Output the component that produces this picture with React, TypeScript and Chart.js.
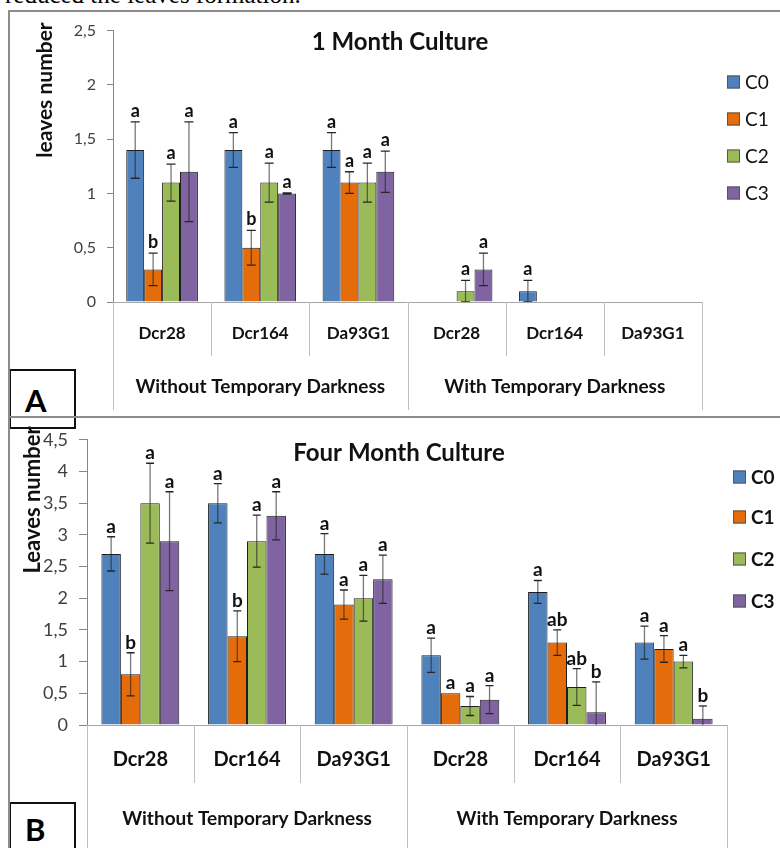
import React, { useEffect, useRef } from "react";
import { Chart, registerables } from "chart.js";
Chart.register(...registerables);

// ---------- data ----------
const seriesNames = ["C0", "C1", "C2", "C3"];
const seriesColors = ["#4F81BD", "#E46C0A", "#9BBB59", "#8064A2"];
const cultivars = ["Dcr28", "Dcr164", "Da93G1", "Dcr28", "Dcr164", "Da93G1"];
const groupNames = ["Without Temporary Darkness", "With Temporary Darkness"];
const yTicksOne = [0, 0.5, 1, 1.5, 2, 2.5];
const yTicksFour = [0, 0.5, 1, 1.5, 2, 2.5, 3, 3.5, 4, 4.5];

// 1 Month Culture
const oneC0 = [1.4, 1.4, 1.4, 0, 0.1, 0];
const oneC1 = [0.3, 0.5, 1.1, 0, 0, 0];
const oneC2 = [1.1, 1.1, 1.1, 0.1, 0, 0];
const oneC3 = [1.2, 1.0, 1.2, 0.3, 0, 0];
const oneErrC0 = [0.26, 0.16, 0.16, 0, 0.1, 0];
const oneErrC1 = [0.15, 0.16, 0.1, 0, 0, 0];
const oneErrC2 = [0.17, 0.18, 0.18, 0.1, 0, 0];
const oneErrC3 = [0.46, 0.005, 0.19, 0.15, 0, 0];
const oneLetC0 = ["a", "a", "a", "", "a", ""];
const oneLetC1 = ["b", "b", "a", "", "", ""];
const oneLetC2 = ["a", "a", "a", "a", "", ""];
const oneLetC3 = ["a", "a", "a", "a", "", ""];

// Four Month Culture
const fourC0 = [2.7, 3.5, 2.7, 1.1, 2.1, 1.3];
const fourC1 = [0.8, 1.4, 1.9, 0.5, 1.3, 1.2];
const fourC2 = [3.5, 2.9, 2.0, 0.3, 0.6, 1.0];
const fourC3 = [2.9, 3.3, 2.3, 0.4, 0.2, 0.1];
const fourErrC0 = [0.27, 0.31, 0.32, 0.27, 0.18, 0.26];
const fourErrC1 = [0.34, 0.4, 0.23, 0, 0.2, 0.21];
const fourErrC2 = [0.63, 0.41, 0.36, 0.15, 0.29, 0.1];
const fourErrC3 = [0.78, 0.38, 0.38, 0.22, 0.48, 0.2];
const fourLetC0 = ["a", "a", "a", "a", "a", "a"];
const fourLetC1 = ["b", "b", "a", "a", "ab", "a"];
const fourLetC2 = ["a", "a", "a", "a", "ab", "a"];
const fourLetC3 = ["a", "a", "a", "a", "b", "b"];

const FONT = 'Lato, "Open Sans", sans-serif';

type Panel = {
  title: string;
  yTitle: string;
  values: number[][];
  errors: number[][];
  letters: string[][];
  yMax: number;
  yTicks: number[];
  w: number;
  h: number;
  style: any;
};

const panelOne: Panel = {
  title: "1 Month Culture",
  yTitle: "leaves number",
  values: [oneC0, oneC1, oneC2, oneC3],
  errors: [oneErrC0, oneErrC1, oneErrC2, oneErrC3],
  letters: [oneLetC0, oneLetC1, oneLetC2, oneLetC3],
  yMax: 2.5,
  yTicks: yTicksOne,
  w: 772,
  h: 408,
  style: {
    yWidth: 105, padTop: 20, padBottom: 116, padRight: 78,
    tickFont: 16, tickLen: 6, tickPad: 11,
    titleX: 392, titleY: 32, titleFont: 24,
    yTitleX: 37, yTitleY: 80, yTitleFont: 21,
    catY: 32, catFont: 17, groupY: 85, groupFont: 19,
    innerDiv: 54, outerDiv: 108,
    legSqX: 719, legTxtX: 737, legY: [72, 109, 146, 183], legFont: "19px", legBold: false,
    letterFont: 18, letterGap: 5, capHalf: 4.5,
  },
};

const panelFour: Panel = {
  title: "Four Month Culture",
  yTitle: "Leaves number",
  values: [fourC0, fourC1, fourC2, fourC3],
  errors: [fourErrC0, fourErrC1, fourErrC2, fourErrC3],
  letters: [fourLetC0, fourLetC1, fourLetC2, fourLetC3],
  yMax: 4.5,
  yTicks: yTicksFour,
  w: 772,
  h: 430,
  style: {
    yWidth: 79, padTop: 18, padBottom: 123, padRight: 53,
    tickFont: 18, tickLen: 8, tickPad: 11,
    titleX: 391, titleY: 35, titleFont: 24,
    yTitleX: 25, yTitleY: 82, yTitleFont: 22,
    catY: 35, catFont: 20, groupY: 94, groupFont: 19,
    innerDiv: 58, outerDiv: 123,
    legSqX: 725, legTxtX: 743, legY: [59, 99, 141, 183], legFont: "bold 19px", legBold: true,
    letterFont: 19, letterGap: 4, capHalf: 4,
  },
};

function makePlugin(p: Panel) {
  const s = p.style;
  return {
    id: "panelDecor",
    afterDatasetsDraw(chart: any) {
      const ctx = chart.ctx;
      const y = chart.scales.y;
      const area = chart.chartArea;
      ctx.save();
      p.values.forEach((vals, di) => {
        const meta = chart.getDatasetMeta(di);
        vals.forEach((v, i) => {
          const bar = meta.data[i];
          const x = bar.x;
          const e = p.errors[di][i];
          const topV = v + e;
          if (e > 0) {
            const yt = y.getPixelForValue(topV);
            const yb = Math.min(y.getPixelForValue(v - e), area.bottom);
            ctx.strokeStyle = "rgba(30,30,30,0.6)";
            ctx.lineWidth = 1.3;
            ctx.beginPath();
            ctx.moveTo(x, yt);
            ctx.lineTo(x, yb);
            ctx.stroke();
            ctx.strokeStyle = "#262626";
            ctx.beginPath();
            ctx.moveTo(x - s.capHalf, yt);
            ctx.lineTo(x + s.capHalf, yt);
            if (v - e >= 0) {
              ctx.moveTo(x - s.capHalf, yb);
              ctx.lineTo(x + s.capHalf, yb);
            }
            ctx.stroke();
          }
          const letter = p.letters[di][i];
          if (letter) {
            ctx.fillStyle = "#111";
            ctx.font = `bold ${s.letterFont}px ${FONT}`;
            ctx.textAlign = "center";
            ctx.textBaseline = "alphabetic";
            ctx.fillText(letter, x, y.getPixelForValue(topV) - s.letterGap);
          }
        });
      });
      ctx.restore();
    },
    afterDraw(chart: any) {
      const ctx = chart.ctx;
      const area = chart.chartArea;
      const xs = chart.scales.x;
      const n = cultivars.length;
      const cw = (area.right - area.left) / n;
      ctx.save();
      // baseline
      ctx.strokeStyle = "#a6a6a6";
      ctx.lineWidth = 1;
      ctx.beginPath();
      ctx.moveTo(area.left, area.bottom + 0.5);
      ctx.lineTo(area.right, area.bottom + 0.5);
      ctx.stroke();
      // dividers
      ctx.strokeStyle = "#bfbfbf";
      for (let i = 0; i <= n; i++) {
        const x = Math.round(area.left + i * cw) + 0.5;
        const outer = i === 0 || i === n || i === n / 2;
        ctx.beginPath();
        ctx.moveTo(x, area.bottom);
        ctx.lineTo(x, area.bottom + (outer ? s.outerDiv : s.innerDiv));
        ctx.stroke();
      }
      // category labels
      ctx.fillStyle = "#111";
      ctx.textAlign = "center";
      ctx.textBaseline = "middle";
      ctx.font = `bold ${s.catFont}px ${FONT}`;
      cultivars.forEach((c, i) => {
        ctx.fillText(c, xs.getPixelForValue(i), area.bottom + s.catY);
      });
      ctx.font = `bold ${s.groupFont}px ${FONT}`;
      groupNames.forEach((g, gi) => {
        const cx = area.left + (gi * 3 + 1.5) * cw;
        ctx.fillText(g, cx, area.bottom + s.groupY);
      });
      // title
      ctx.font = `bold ${s.titleFont}px ${FONT}`;
      ctx.fillText(p.title, s.titleX, s.titleY);
      // y title
      ctx.save();
      ctx.translate(s.yTitleX, s.yTitleY);
      ctx.rotate(-Math.PI / 2);
      ctx.font = `bold ${s.yTitleFont}px ${FONT}`;
      ctx.fillText(p.yTitle, 0, 0);
      ctx.restore();
      // legend
      ctx.textAlign = "left";
      ctx.font = `${s.legFont} ${FONT}`;
      seriesNames.forEach((name, i) => {
        const cy = s.legY[i];
        ctx.fillStyle = seriesColors[i];
        ctx.fillRect(s.legSqX, cy - 6.5, 13, 13);
        ctx.strokeStyle = "#555";
        ctx.lineWidth = 1;
        ctx.strokeRect(s.legSqX + 0.5, cy - 6, 12, 12);
        ctx.fillStyle = "#111";
        ctx.fillText(name, s.legTxtX, cy + 1);
      });
      ctx.restore();
    },
  };
}

function PanelChart({ p, top, label }: { p: Panel; top: number; label: string }) {
  const ref = useRef<HTMLCanvasElement | null>(null);
  useEffect(() => {
    if (!ref.current) return;
    const s = p.style;
    const chart = new Chart(ref.current, {
      type: "bar",
      data: {
        labels: cultivars,
        datasets: p.values.map((vals, i) => ({
          label: seriesNames[i],
          data: vals,
          backgroundColor: seriesColors[i],
          borderColor: "#1e1e1e",
          borderWidth: 1,
          borderSkipped: "bottom",
          categoryPercentage: 0.73,
          barPercentage: 1,
        })),
      },
      options: {
        responsive: false,
        animation: false,
        events: [],
        layout: { padding: { top: s.padTop, bottom: s.padBottom, right: s.padRight, left: 0 } },
        plugins: { legend: { display: false }, tooltip: { enabled: false }, title: { display: false } },
        scales: {
          x: { display: false },
          y: {
            min: 0,
            max: p.yMax,
            afterFit: (sc: any) => { sc.width = s.yWidth; },
            afterBuildTicks: (sc: any) => { sc.ticks = p.yTicks.map((v) => ({ value: v })); },
            ticks: {
              font: { family: FONT, size: s.tickFont },
              color: "#404040",
              padding: s.tickPad,
              callback: (v: any) => String(v).replace(".", ","),
            },
            grid: { drawOnChartArea: false, drawTicks: true, tickLength: s.tickLen, color: "#868686" },
            border: { color: "#868686", width: 1 },
          },
        },
      },
      plugins: [makePlugin(p)],
    } as any);
    return () => chart.destroy();
  }, [p]);
  return (
    <>
      <canvas
        ref={ref}
        width={p.w}
        height={p.h}
        style={{ position: "absolute", left: 8, top, width: p.w, height: p.h }}
      />
      <div
        style={{
          position: "absolute", left: 9, top: top + p.h - (label === "A" ? 49 : 46),
          width: 67, height: 60, border: "2px solid #111", boxSizing: "border-box",
          fontFamily: FONT, fontWeight: 700, fontSize: 31, lineHeight: "1",
          paddingLeft: 14, paddingTop: label === "A" ? 14 : 10, background: "white",
        }}
      >
        {label}
      </div>
    </>
  );
}

export default function App() {
  return (
    <div style={{ position: "absolute", left: 0, top: 0, width: 780, height: 848, overflow: "hidden", background: "white" }}>
      <div style={{ position: "absolute", left: 5, top: -19, fontFamily: '"Liberation Serif", "Times New Roman", serif', fontSize: 25, whiteSpace: "nowrap", color: "#000" }}>
        reduced the leaves formation.
      </div>
      <PanelChart p={panelOne} top={10} label="A" />
      <PanelChart p={panelFour} top={418} label="B" />
      <div style={{ position: "absolute", left: 8, top: 10, width: 790, height: 408, borderTop: "2px solid #8c8c8c", borderLeft: "2px solid #8c8c8c", borderBottom: "2px solid #8c8c8c", boxSizing: "border-box", pointerEvents: "none" }} />
      <div style={{ position: "absolute", left: 8, top: 416, width: 790, height: 440, borderTop: "2px solid #8c8c8c", borderLeft: "2px solid #8c8c8c", boxSizing: "border-box", pointerEvents: "none" }} />
    </div>
  );
}
